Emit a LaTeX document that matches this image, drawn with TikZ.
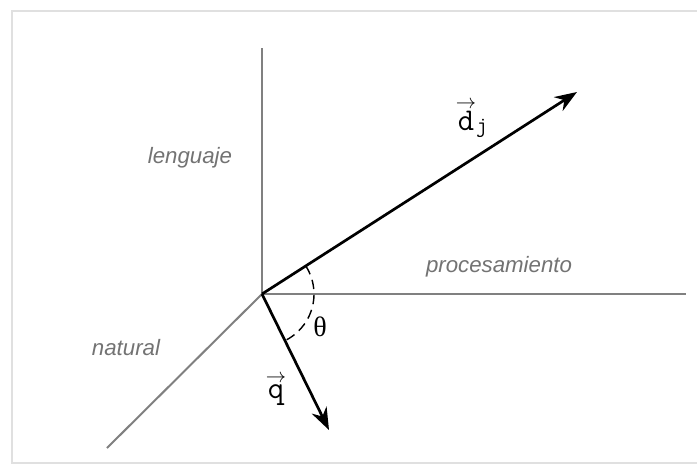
\documentclass[tikz,border=0pt]{standalone}
\usepackage{fontspec}
\setmainfont{Liberation Sans}
\newfontfamily\thetafont{Liberation Serif}
\usetikzlibrary{arrows.meta}

\tikzset{
  axis/.style={draw=black!50, line width=1.7pt},
  vect/.style={draw=black, line width=2.3pt, -{Stealth[length=19pt,width=14pt]}},
  axlabel/.style={text=black!55, font=\fontsize{19}{22}\selectfont\itshape},
  veclabel/.style={text=black, font=\fontsize{27}{29}\selectfont\ttfamily}
}

\begin{document}
\begin{tikzpicture}[x=0.03cm, y=-0.03cm]
    \useasboundingbox[fill=white] (0,0) rectangle (697,466);
    % frame of the figure
    \draw[black!12, line width=1.2pt] (697,11) -- (12,11) -- (12,463) -- (697,463);

    \coordinate (o) at (262,294);
    \coordinate (lentop) at (262,48);
    \coordinate (procend) at (686,294);
    \coordinate (natend) at (107,448);
    \coordinate (dend) at (577,92);
    \coordinate (qend) at (329,430);

    \draw[axis] (o)--(lentop);
    \draw[axis] (o)--(procend);
    \draw[axis] (o)--(natend);

    \draw[vect] (o)--(dend);
    \draw[vect] (o)--(qend);

    % angle between the vectors
    \draw[black, line width=1.2pt, dash pattern=on 8pt off 5pt] ([shift={(-32.6:52)}]o) arc[start angle=32.6, end angle=-63.8, radius=1.56cm];

    \node[axlabel] (lenguaje) at (190,158) {lenguaje};
    \node[axlabel] (procesamiento) at (499,267) {procesamiento};
    \node[axlabel] (natural) at (126,348) {natural};
    \node[font=\fontsize{24}{26}\selectfont\thetafont] (theta) at (320,327) {θ};
    \node[veclabel] (qlabel) at (276,390) {$\stackrel{\rightarrow}{\mathtt{q}}$};
    \node[veclabel] (dlabel) at (472,119) {$\stackrel{\rightarrow}{\mathtt{d}}_{\mathtt{j}}$};
\end{tikzpicture}
\end{document}
